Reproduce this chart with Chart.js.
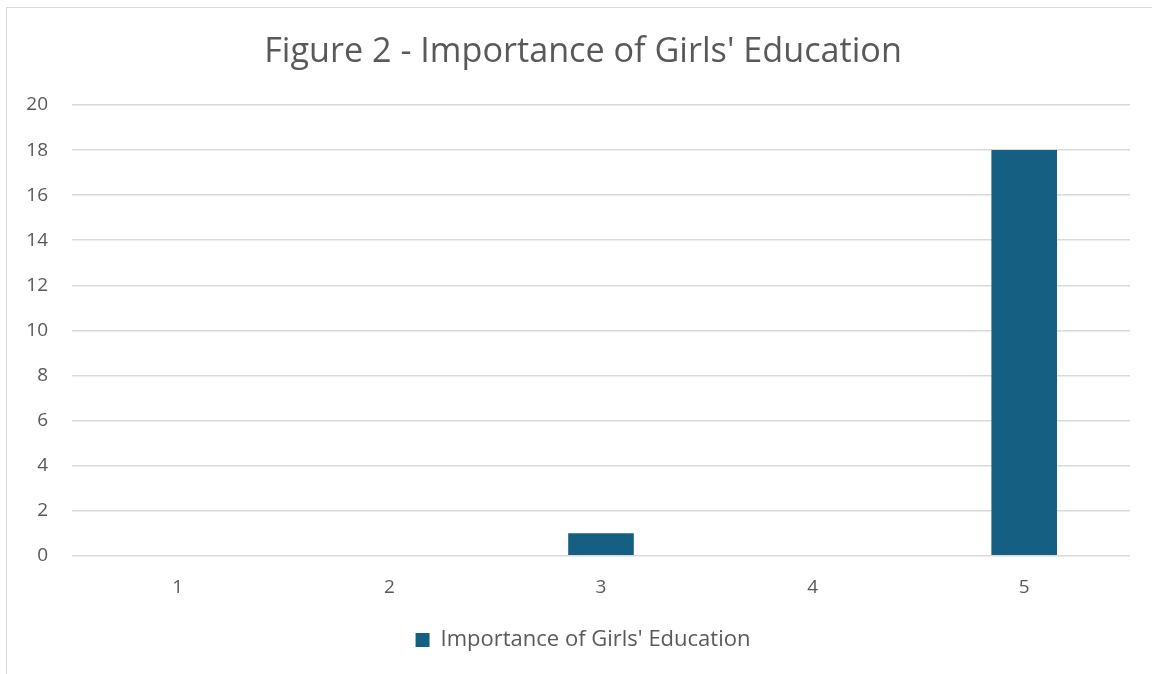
<!DOCTYPE html>
<html>
<head>
<meta charset="utf-8">
<script src="https://cdn.jsdelivr.net/npm/chart.js@4"></script>
<style>
  html, body { margin: 0; padding: 0; background: #fff; overflow: hidden; }
  #frame {
    position: absolute; left: 6px; top: 7px;
    width: 1200px; height: 720px;
    border: 1px solid #d9d9d9; box-sizing: border-box;
  }
  #wrap { position: absolute; left: 0; top: 0; width: 1166px; height: 674px; }
</style>
</head>
<body>
<div id="frame"></div>
<div id="wrap"><canvas id="chart"></canvas></div>
<script>
// Rating scale and number of responses per rating
const ratings = ["1", "2", "3", "4", "5"];
const responses = [0, 0, 1, 0, 18];
const seriesName = "Importance of Girls' Education";
const chartTitle = "Figure 2 - Importance of Girls' Education";

const textColor = "#595959";
const barColor = "#156082";
const fontFamily = "'Open Sans', sans-serif";

new Chart(document.getElementById("chart"), {
  type: "bar",
  data: {
    labels: ratings,
    datasets: [{
      label: seriesName,
      data: responses,
      backgroundColor: barColor,
      categoryPercentage: 1,
      barPercentage: 0.31
    }]
  },
  options: {
    responsive: true,
    maintainAspectRatio: false,
    animation: false,
    layout: { padding: { top: 0, right: 0, bottom: 13, left: 0 } },
    plugins: {
      title: {
        display: true,
        text: chartTitle,
        color: textColor,
        font: { family: fontFamily, size: 34.2, weight: "normal" },
        padding: { top: 32, bottom: 32 }
      },
      legend: {
        position: "bottom",
        labels: {
          color: textColor,
          font: { family: fontFamily, size: 22 },
          boxWidth: 14,
          boxHeight: 14,
          padding: 12
        }
      },
      tooltip: { enabled: false }
    },
    scales: {
      x: {
        grid: { display: false },
        border: { display: false },
        ticks: { color: textColor, font: { family: fontFamily, size: 19 }, padding: 12.6 },
        afterFit: (scale) => { scale.height += 5.3; }
      },
      y: {
        min: 0,
        max: 20,
        ticks: { stepSize: 2, color: textColor, font: { family: fontFamily, size: 19 }, padding: 24 },
        grid: { color: "#d9d9d9", lineWidth: 1.5, drawTicks: false },
        border: { display: false },
        afterFit: (scale) => { scale.width = 72; }
      },
      // empty right-hand margin so the plot stops short of the frame edge
      right: {
        position: "right",
        ticks: { display: false },
        grid: { display: false },
        border: { display: false },
        afterFit: (scale) => { scale.width = 36; }
      }
    }
  }
});
</script>
</body>
</html>
